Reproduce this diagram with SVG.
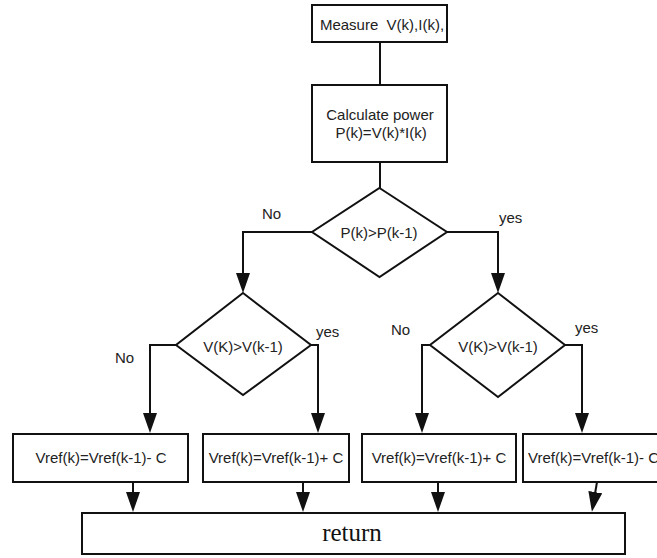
<svg xmlns="http://www.w3.org/2000/svg" width="657" height="558" viewBox="0 0 657 558">
<style>
.box{fill:#fff;stroke:#111;stroke-width:2}
.t{font-family:"Liberation Sans",Arial,sans-serif;font-size:15px;fill:#222;text-anchor:middle}
.lbl{font-family:"Liberation Sans",Arial,sans-serif;font-size:15px;fill:#222}
.ret{font-family:"Liberation Serif","Times New Roman",serif;font-size:25px;fill:#111;text-anchor:middle}
.c{fill:none;stroke:#111;stroke-width:2}
</style>
<defs>
<marker id="ah" viewBox="0 0 20 14" refX="10" refY="7" markerWidth="20" markerHeight="14" markerUnits="userSpaceOnUse" orient="auto">
<path d="M0,0 L20,7 L0,14 z" fill="#111"/>
</marker>
</defs>
<rect width="657" height="558" fill="#fff"/>
<g id="connectors">
<path class="c" d="M380,42 V85"/>
<path class="c" d="M380,162 V188"/>
<path class="c" d="M312,232 H243 V283" marker-end="url(#ah)"/>
<path class="c" d="M447,232 H498 V283" marker-end="url(#ah)"/>
<path class="c" d="M176,345 H150 V423" marker-end="url(#ah)"/>
<path class="c" d="M311,345 H318 V423" marker-end="url(#ah)"/>
<path class="c" d="M430,345 H422 V423" marker-end="url(#ah)"/>
<path class="c" d="M565,345 H582 V423" marker-end="url(#ah)"/>
<path class="c" d="M133,482 V502" marker-end="url(#ah)"/>
<path class="c" d="M303,482 V502" marker-end="url(#ah)"/>
<path class="c" d="M438,482 V502" marker-end="url(#ah)"/>
<path class="c" d="M597,482 L593.6,502" marker-end="url(#ah)"/>
</g>
<g id="measure">
<rect class="box" x="312" y="5" width="135" height="37"/>
<text class="t" x="382" y="30" xml:space="preserve">Measure  V(k),I(k),</text>
</g>
<g id="calc">
<rect class="box" x="312" y="85" width="135" height="77"/>
<text class="t" x="380" y="120">Calculate power</text>
<text class="t" x="381" y="138">P(k)=V(k)*I(k)</text>
</g>
<g id="dec1">
<polygon class="box" points="379.5,188 447,232 379.5,277 312,232"/>
<text class="t" x="379" y="238">P(k)&gt;P(k-1)</text>
</g>
<g id="dec2">
<polygon class="box" points="243,293 311,345 243,395 176,345"/>
<text class="t" x="243" y="352">V(K)&gt;V(k-1)</text>
</g>
<g id="dec3">
<polygon class="box" points="498,293 565,345 498,397 430,345"/>
<text class="t" x="498" y="352">V(K)&gt;V(k-1)</text>
</g>
<g id="labels">
<text class="lbl" x="262" y="219">No</text>
<text class="lbl" x="499" y="223">yes</text>
<text class="lbl" x="115" y="363">No</text>
<text class="lbl" x="316" y="337">yes</text>
<text class="lbl" x="391" y="335">No</text>
<text class="lbl" x="575" y="333">yes</text>
</g>
<g id="boxA">
<rect class="box" x="13" y="434" width="175" height="48"/>
<text class="t" x="101" y="463">Vref(k)=Vref(k-1)- C</text>
</g>
<g id="boxB">
<rect class="box" x="203" y="434" width="146" height="48"/>
<text class="t" x="276" y="463">Vref(k)=Vref(k-1)+ C</text>
</g>
<g id="boxC">
<rect class="box" x="362" y="434" width="154" height="48"/>
<text class="t" x="439" y="463">Vref(k)=Vref(k-1)+ C</text>
</g>
<g id="boxD">
<rect class="box" x="523" y="434" width="160" height="48"/>
<text class="lbl" x="528" y="463">Vref(k)=Vref(k-1)- C</text>
</g>
<g id="return">
<rect class="box" x="82" y="513" width="543" height="41"/>
<text class="ret" x="352" y="541">return</text>
</g>
</svg>
